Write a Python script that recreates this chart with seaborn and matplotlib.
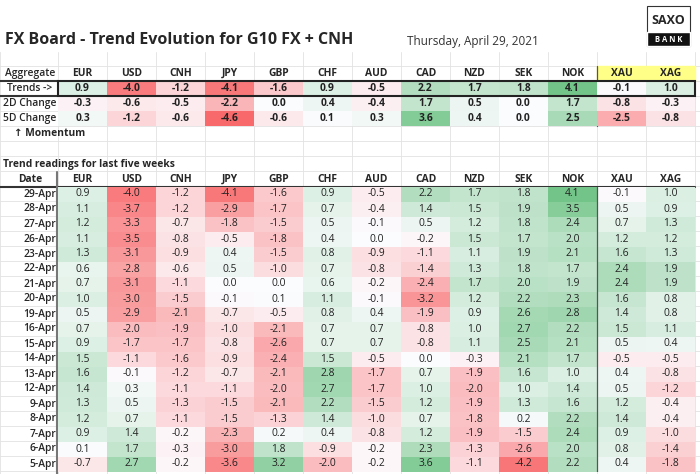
import numpy as np
import pandas as pd
import seaborn as sns
import matplotlib.pyplot as plt
from matplotlib.colors import LinearSegmentedColormap
from matplotlib.patches import Rectangle

# data
ccys = ['EUR', 'USD', 'CNH', 'JPY', 'GBP', 'CHF', 'AUD', 'CAD', 'NZD', 'SEK', 'NOK', 'XAU', 'XAG']
trend = [0.9, -4.0, -1.2, -4.1, -1.6, 0.9, -0.5, 2.2, 1.7, 1.8, 4.1, -0.1, 1.0]
chg_2d = [-0.3, -0.6, -0.5, -2.2, 0.0, 0.4, -0.4, 1.7, 0.5, 0.0, 1.7, -0.8, -0.3]
chg_5d = [0.3, -1.2, -0.6, -4.6, -0.6, 0.1, 0.3, 3.6, 0.4, 0.0, 2.5, -2.5, -0.8]
dates = ['29-Apr', '28-Apr', '27-Apr', '26-Apr', '23-Apr', '22-Apr', '21-Apr', '20-Apr', '19-Apr', '16-Apr',
         '15-Apr', '14-Apr', '13-Apr', '12-Apr', '9-Apr', '8-Apr', '7-Apr', '6-Apr', '5-Apr']
eur = [0.9, 1.1, 1.2, 1.1, 1.3, 0.6, 0.7, 1.0, 0.5, 0.7, 0.9, 1.5, 1.6, 1.4, 1.3, 1.2, 0.9, 0.1, -0.7]
usd = [-4.0, -3.7, -3.3, -3.5, -3.1, -2.8, -3.1, -3.0, -2.9, -2.0, -1.7, -1.1, -0.1, 0.3, 0.5, 0.7, 1.4, 1.7, 2.7]
cnh = [-1.2, -1.2, -0.7, -0.8, -0.9, -0.6, -1.1, -1.5, -2.1, -1.9, -1.7, -1.6, -1.2, -1.1, -1.3, -1.1, -0.2, -0.3, -0.2]
jpy = [-4.1, -2.9, -1.8, -0.5, 0.4, 0.5, 0.0, -0.1, -0.7, -1.0, -0.8, -0.9, -0.7, -1.1, -1.5, -1.5, -2.3, -3.0, -3.6]
gbp = [-1.6, -1.7, -1.5, -1.8, -1.5, -1.0, 0.0, 0.1, -0.5, -2.1, -2.6, -2.4, -2.1, -2.0, -2.1, -1.3, 0.2, 1.8, 3.2]
chf = [0.9, 0.7, 0.5, 0.4, 0.8, 0.7, 0.6, 1.1, 0.8, 0.7, 0.7, 1.5, 2.8, 2.7, 2.2, 1.4, 0.4, -0.9, -2.0]
aud = [-0.5, -0.4, -0.1, 0.0, -0.9, -0.8, -0.2, -0.1, 0.4, 0.7, 0.7, -0.5, -1.7, -1.7, -1.5, -1.0, -0.8, -0.2, -0.2]
cad = [2.2, 1.4, 0.5, -0.2, -1.1, -1.4, -2.4, -3.2, -1.9, -0.8, -0.8, 0.0, 0.7, 1.0, 1.2, 0.7, 1.2, 2.3, 3.6]
nzd = [1.7, 1.5, 1.2, 1.5, 1.1, 1.3, 1.7, 1.2, 0.9, 1.0, 1.1, -0.3, -1.9, -2.0, -1.9, -1.8, -1.9, -1.3, -1.1]
sek = [1.8, 1.9, 1.8, 1.7, 1.9, 1.8, 2.0, 2.2, 2.6, 2.7, 2.5, 2.1, 1.6, 1.0, 1.3, 0.2, -1.5, -2.6, -4.2]
nok = [4.1, 3.5, 2.4, 2.0, 2.1, 1.7, 1.9, 2.3, 2.8, 2.2, 2.1, 1.7, 1.0, 1.4, 1.6, 2.2, 2.4, 2.0, 2.2]
xau = [-0.1, 0.5, 0.7, 1.2, 1.6, 2.4, 2.4, 1.6, 1.4, 1.5, 0.5, -0.5, 0.4, 0.5, 1.2, 1.4, 0.9, 0.8, 0.4]
xag = [1.0, 0.9, 1.3, 1.2, 1.3, 1.9, 1.9, 0.8, 0.8, 1.1, 0.4, -0.5, -0.8, -1.2, -0.4, -0.4, -1.0, -1.4, -1.8]

daily = pd.DataFrame(dict(zip(ccys, [eur, usd, cnh, jpy, gbp, chf, aud, cad, nzd, sek, nok, xau, xag])), index=dates)
agg = pd.DataFrame([trend, chg_2d, chg_5d], columns=ccys, index=['Trends ->', '2D Change', '5D Change'])

sns.set_style('white')
plt.rcParams['font.family'] = ['Open Sans', 'DejaVu Sans']

W, H = 700, 474
fig = plt.figure(figsize=(7, 4.74), dpi=100)
bg = fig.add_axes([0, 0, 1, 1])
bg.set_xlim(0, W)
bg.set_ylim(H, 0)
bg.axis('off')

cmap = LinearSegmentedColormap.from_list('xl', ['#f8696b', '#fcfcff', '#63be7b'])
x0, cw, rh = 58, 49, 15
x1 = x0 + cw * len(ccys)
fs = 7.4

# excel grid
for x in [0, x0] + [x0 + cw * i for i in range(1, 14)]:
    bg.plot([x, x], [0, H], color='#e2e2e2', lw=0.6, zorder=0)
for y in np.arange(6, H, rh):
    bg.plot([0, W], [y, y], color='#e2e2e2', lw=0.6, zorder=0)
bg.add_patch(Rectangle((0, 0), W, 51, color='white', zorder=0.5))


def place(y_top, nrows):
    return fig.add_axes([x0 / W, 1 - (y_top + nrows * rh) / H, cw * len(ccys) / W, nrows * rh / H])


kw = dict(cmap=cmap, vmin=-4.6, vmax=4.6, annot=True, fmt='.1f', cbar=False,
          xticklabels=False, yticklabels=False, annot_kws={'fontsize': fs, 'color': '#222222'})

ax_a = place(81, 3)
sns.heatmap(agg, ax=ax_a, **kw)
for t in ax_a.texts:
    t.set_fontweight('bold')
ax_d = place(186.5, len(dates))
sns.heatmap(daily, ax=ax_d, **kw)
for a in (ax_a, ax_d):
    a.set_xlabel('')
    a.set_ylabel('')

# titles
bg.text(5, 40, 'FX Board - Trend Evolution for G10 FX + CNH', fontsize=11.5, fontweight='bold', va='center')
bg.text(407, 41, 'Thursday, April 29, 2021', fontsize=8.5, va='center', color='#333333')
bg.add_patch(Rectangle((647, 6), 43, 40, facecolor='white', edgecolor='#333333', lw=0.8, zorder=2))
bg.add_patch(Rectangle((647, 32), 43, 14, facecolor='#111111', zorder=3))
bg.text(668.5, 20, 'SAXO', fontsize=9, fontweight='bold', ha='center', va='center', zorder=4)
bg.text(668.5, 39.5, 'B A N K', fontsize=5.5, fontweight='bold', color='white', ha='center', va='center', zorder=4)

# headers
bg.add_patch(Rectangle((x0 + cw * 11, 66), cw * 2, rh, color='#ffff88', zorder=1))
for i, c in enumerate(ccys):
    cx = x0 + cw * i + cw / 2
    bg.text(cx, 73.5, c, fontsize=fs, fontweight='bold', ha='center', va='center')
    bg.text(cx, 179, c, fontsize=fs, fontweight='bold', ha='center', va='center')
bg.text(30, 73.5, 'Aggregate', fontsize=fs, fontweight='semibold', ha='center', va='center')
for j, lab in enumerate(agg.index):
    bg.text(30, 88.5 + j * rh, lab, fontsize=fs, ha='center', va='center', fontweight='semibold')
bg.text(14, 133.5, '\u2191 Momentum', fontsize=fs, fontweight='bold', va='center')
bg.text(3, 164, 'Trend readings for last five weeks', fontsize=fs, fontweight='bold', va='center')
bg.text(30, 179, 'Date', fontsize=fs, fontweight='bold', ha='center', va='center')
for j, d in enumerate(dates):
    bg.text(56, 194 + j * rh, d, fontsize=fs, ha='right', va='center', fontweight='semibold')

# rules
ax_a.add_patch(Rectangle((0, 0), 13, 1, fill=False, edgecolor='#222222', lw=1.5, clip_on=False))
bg.plot([0, x0], [81, 81], color='#333333', lw=1.5)
bg.plot([0, x0], [96, 96], color='#333333', lw=1.5)
bg.plot([0, x1], [186.5, 186.5], color='#333333', lw=1.5)
bg.plot([x0 - 1, x0 - 1], [171.5, H], color='#777777', lw=1.5)
bg.plot([x0 + cw * 11, x0 + cw * 11], [66, 126], color='#555555', lw=0.9, zorder=5)
ax_d.axvline(11, color='#555555', lw=0.9)

fig.savefig('out.png', dpi=100)
